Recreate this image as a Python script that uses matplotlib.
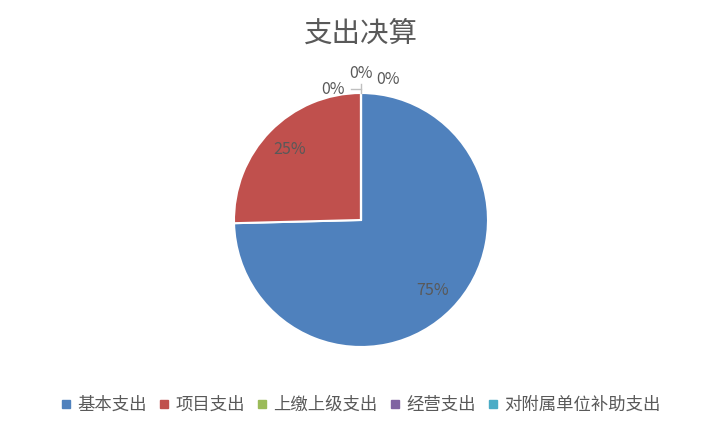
import matplotlib
matplotlib.use("Agg")
import matplotlib.pyplot as plt
from matplotlib.lines import Line2D
import numpy as np

plt.rcParams['font.family'] = ['Noto Sans CJK SC', 'DejaVu Sans']

title = "支出决算"
categories = ["基本支出", "项目支出", "上缴上级支出", "经营支出", "对附属单位补助支出"]
values = [74.6, 25.4, 0, 0, 0]
colors = ["#4F81BD", "#C0504D", "#9BBB59", "#8064A2", "#4BACC6"]

W, H = 722, 434
fig = plt.figure(figsize=(W / 100, H / 100), dpi=100)
cx, cy, r = 361, 220, 127
ax = fig.add_axes([(cx - r) / W, (H - cy - r) / H, 2 * r / W, 2 * r / H])
ax.axis('off')

wedges, _ = ax.pie(values, colors=colors, startangle=90, counterclock=False,
                   radius=1, wedgeprops=dict(edgecolor='white', linewidth=1.5))
ax.set_xlim(-1, 1)
ax.set_ylim(-1, 1)
ax.set_aspect('auto')

total = sum(values)
txt_color = "#595959"
# label positions for zero-value slices (axes data units)
zero_pos = [(-0.22, 1.03), (0.0, 1.15), (0.21, 1.11)]
zi = 0
for w, v in zip(wedges, values):
    pct = f"{v / total * 100:.0f}%"
    mid = np.deg2rad((w.theta1 + w.theta2) / 2)
    if v > 0:
        ax.text(0.79 * np.cos(mid), 0.79 * np.sin(mid), pct, ha='center', va='center',
                fontsize=11.5, color=txt_color)
    else:
        x, y = zero_pos[zi]
        ax.text(x, y, pct, ha='center', va='center', fontsize=11.5, color=txt_color,
                clip_on=False)
        zi += 1

# leader lines for zero slices
ax.add_line(Line2D([0.0, 0.0], [1.0, 1.07], color="#BFBFBF", lw=1, clip_on=False))
ax.add_line(Line2D([-0.08, 0.0], [1.03, 1.03], color="#BFBFBF", lw=1, clip_on=False))

fig.text(0.5, 1 - 34 / H, title, ha='center', va='center', fontsize=20.5, color=txt_color)

handles = [Line2D([0], [0], marker='s', linestyle='none', markersize=6,
                  markerfacecolor=c, markeredgecolor=c) for c in colors]
fig.legend(handles, categories, loc='center', bbox_to_anchor=(0.5, 1 - 405 / H),
           ncol=5, frameon=False, fontsize=12.5, labelcolor=txt_color,
           handlelength=0.5, handletextpad=0.4, columnspacing=0.75)

fig.savefig("out.png", dpi=100)
